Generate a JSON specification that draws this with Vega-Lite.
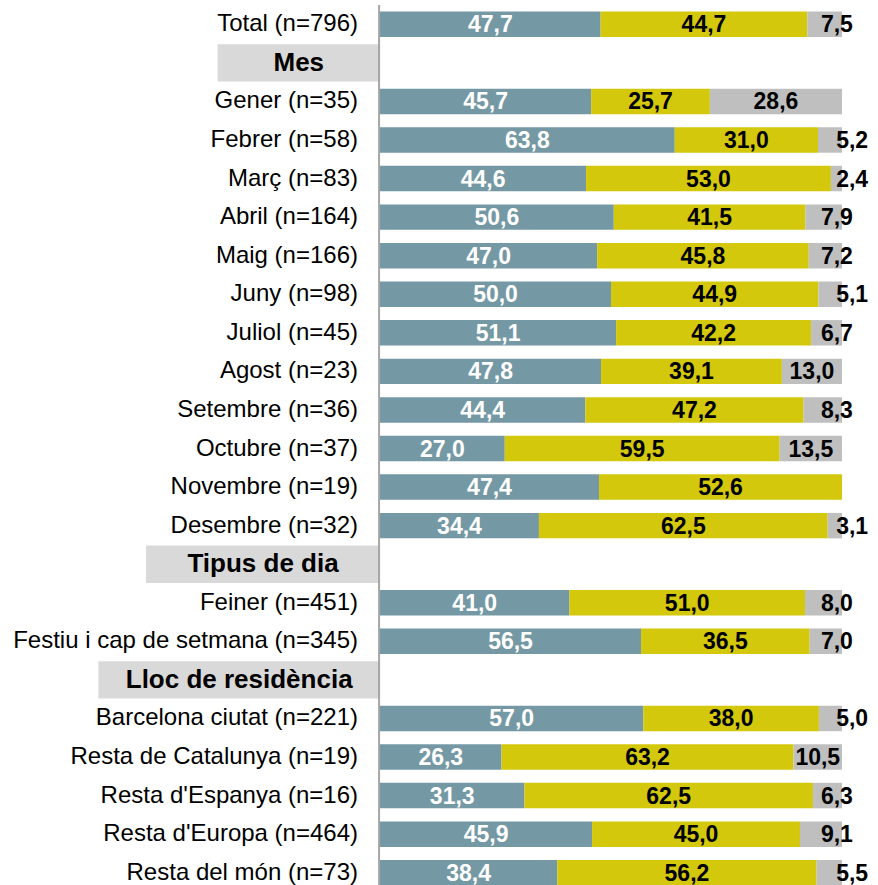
{
  "$schema": "https://vega.github.io/schema/vega-lite/v6.json",
  "width": 878,
  "height": 887,
  "autosize": {"type": "none"},
  "padding": {"left": 0, "right": 0, "top": 5, "bottom": 0},
  "config": {
    "view": {"stroke": null},
    "font": "Liberation Sans",
    "locale": {"number": {"decimal": ",", "thousands": ".", "grouping": [3], "currency": ["", " €"]}}
  },
  "datasets": {
    "rows": [
      {"row": "Total (n=796)", "kind": "cat"},
      {"row": "Mes", "kind": "header"},
      {"row": "Gener (n=35)", "kind": "cat"},
      {"row": "Febrer (n=58)", "kind": "cat"},
      {"row": "Març (n=83)", "kind": "cat"},
      {"row": "Abril (n=164)", "kind": "cat"},
      {"row": "Maig (n=166)", "kind": "cat"},
      {"row": "Juny (n=98)", "kind": "cat"},
      {"row": "Juliol (n=45)", "kind": "cat"},
      {"row": "Agost (n=23)", "kind": "cat"},
      {"row": "Setembre (n=36)", "kind": "cat"},
      {"row": "Octubre (n=37)", "kind": "cat"},
      {"row": "Novembre (n=19)", "kind": "cat"},
      {"row": "Desembre (n=32)", "kind": "cat"},
      {"row": "Tipus de dia", "kind": "header"},
      {"row": "Feiner (n=451)", "kind": "cat"},
      {"row": "Festiu i cap de setmana (n=345)", "kind": "cat"},
      {"row": "Lloc de residència", "kind": "header"},
      {"row": "Barcelona ciutat (n=221)", "kind": "cat"},
      {"row": "Resta de Catalunya (n=19)", "kind": "cat"},
      {"row": "Resta d'Espanya (n=16)", "kind": "cat"},
      {"row": "Resta d'Europa (n=464)", "kind": "cat"},
      {"row": "Resta del món (n=73)", "kind": "cat"}
    ],
    "bars": [
      {"row": "Total (n=796)", "series": "s1", "value": 47.7},
      {"row": "Total (n=796)", "series": "s2", "value": 44.7},
      {"row": "Total (n=796)", "series": "s3", "value": 7.5},
      {"row": "Gener (n=35)", "series": "s1", "value": 45.7},
      {"row": "Gener (n=35)", "series": "s2", "value": 25.7},
      {"row": "Gener (n=35)", "series": "s3", "value": 28.6},
      {"row": "Febrer (n=58)", "series": "s1", "value": 63.8},
      {"row": "Febrer (n=58)", "series": "s2", "value": 31.0},
      {"row": "Febrer (n=58)", "series": "s3", "value": 5.2},
      {"row": "Març (n=83)", "series": "s1", "value": 44.6},
      {"row": "Març (n=83)", "series": "s2", "value": 53.0},
      {"row": "Març (n=83)", "series": "s3", "value": 2.4},
      {"row": "Abril (n=164)", "series": "s1", "value": 50.6},
      {"row": "Abril (n=164)", "series": "s2", "value": 41.5},
      {"row": "Abril (n=164)", "series": "s3", "value": 7.9},
      {"row": "Maig (n=166)", "series": "s1", "value": 47.0},
      {"row": "Maig (n=166)", "series": "s2", "value": 45.8},
      {"row": "Maig (n=166)", "series": "s3", "value": 7.2},
      {"row": "Juny (n=98)", "series": "s1", "value": 50.0},
      {"row": "Juny (n=98)", "series": "s2", "value": 44.9},
      {"row": "Juny (n=98)", "series": "s3", "value": 5.1},
      {"row": "Juliol (n=45)", "series": "s1", "value": 51.1},
      {"row": "Juliol (n=45)", "series": "s2", "value": 42.2},
      {"row": "Juliol (n=45)", "series": "s3", "value": 6.7},
      {"row": "Agost (n=23)", "series": "s1", "value": 47.8},
      {"row": "Agost (n=23)", "series": "s2", "value": 39.1},
      {"row": "Agost (n=23)", "series": "s3", "value": 13.0},
      {"row": "Setembre (n=36)", "series": "s1", "value": 44.4},
      {"row": "Setembre (n=36)", "series": "s2", "value": 47.2},
      {"row": "Setembre (n=36)", "series": "s3", "value": 8.3},
      {"row": "Octubre (n=37)", "series": "s1", "value": 27.0},
      {"row": "Octubre (n=37)", "series": "s2", "value": 59.5},
      {"row": "Octubre (n=37)", "series": "s3", "value": 13.5},
      {"row": "Novembre (n=19)", "series": "s1", "value": 47.4},
      {"row": "Novembre (n=19)", "series": "s2", "value": 52.6},
      {"row": "Desembre (n=32)", "series": "s1", "value": 34.4},
      {"row": "Desembre (n=32)", "series": "s2", "value": 62.5},
      {"row": "Desembre (n=32)", "series": "s3", "value": 3.1},
      {"row": "Feiner (n=451)", "series": "s1", "value": 41.0},
      {"row": "Feiner (n=451)", "series": "s2", "value": 51.0},
      {"row": "Feiner (n=451)", "series": "s3", "value": 8.0},
      {"row": "Festiu i cap de setmana (n=345)", "series": "s1", "value": 56.5},
      {"row": "Festiu i cap de setmana (n=345)", "series": "s2", "value": 36.5},
      {"row": "Festiu i cap de setmana (n=345)", "series": "s3", "value": 7.0},
      {"row": "Barcelona ciutat (n=221)", "series": "s1", "value": 57.0},
      {"row": "Barcelona ciutat (n=221)", "series": "s2", "value": 38.0},
      {"row": "Barcelona ciutat (n=221)", "series": "s3", "value": 5.0},
      {"row": "Resta de Catalunya (n=19)", "series": "s1", "value": 26.3},
      {"row": "Resta de Catalunya (n=19)", "series": "s2", "value": 63.2},
      {"row": "Resta de Catalunya (n=19)", "series": "s3", "value": 10.5},
      {"row": "Resta d'Espanya (n=16)", "series": "s1", "value": 31.3},
      {"row": "Resta d'Espanya (n=16)", "series": "s2", "value": 62.5},
      {"row": "Resta d'Espanya (n=16)", "series": "s3", "value": 6.3},
      {"row": "Resta d'Europa (n=464)", "series": "s1", "value": 45.9},
      {"row": "Resta d'Europa (n=464)", "series": "s2", "value": 45.0},
      {"row": "Resta d'Europa (n=464)", "series": "s3", "value": 9.1},
      {"row": "Resta del món (n=73)", "series": "s1", "value": 38.4},
      {"row": "Resta del món (n=73)", "series": "s2", "value": 56.2},
      {"row": "Resta del món (n=73)", "series": "s3", "value": 5.5}
    ]
  },
  "layer": [
    {
      "data": {"name": "rows"},
      "transform": [
        {"filter": "datum.kind === 'header'"},
        {"calculate": "-(0.30 + 0.0172 * length(datum.row))", "as": "boxLeft"},
        {"calculate": "datum.boxLeft / 2", "as": "boxMid"}
      ],
      "layer": [
        {
          "mark": {"type": "bar", "color": "#D9D9D9", "height": {"band": 0.97}},
          "encoding": {
            "x": {"field": "boxLeft", "type": "quantitative", "scale": {"domain": [-0.8225, 1.0779], "nice": false, "zero": false}, "axis": null},
            "x2": {"datum": 0},
            "y": {"field": "row", "type": "nominal", "scale": {"domain": ["Total (n=796)", "Mes", "Gener (n=35)", "Febrer (n=58)", "Març (n=83)", "Abril (n=164)", "Maig (n=166)", "Juny (n=98)", "Juliol (n=45)", "Agost (n=23)", "Setembre (n=36)", "Octubre (n=37)", "Novembre (n=19)", "Desembre (n=32)", "Tipus de dia", "Feiner (n=451)", "Festiu i cap de setmana (n=345)", "Lloc de residència", "Barcelona ciutat (n=221)", "Resta de Catalunya (n=19)", "Resta d'Espanya (n=16)", "Resta d'Europa (n=464)", "Resta del món (n=73)"], "paddingInner": 0, "paddingOuter": 0}, "axis": null}
          }
        },
        {
          "mark": {"type": "text", "align": "center", "baseline": "middle", "fontSize": 26, "fontWeight": "bold", "color": "#000000"},
          "encoding": {
            "x": {"field": "boxMid", "type": "quantitative"},
            "y": {"field": "row", "type": "nominal"},
            "text": {"field": "row"}
          }
        }
      ]
    },
    {
      "data": {"name": "rows"},
      "transform": [{"filter": "datum.kind === 'cat'"}],
      "mark": {"type": "text", "align": "right", "baseline": "middle", "fontSize": 24, "dx": -22, "color": "#000000"},
      "encoding": {
        "x": {"datum": 0, "type": "quantitative"},
        "y": {"field": "row", "type": "nominal"},
        "text": {"field": "row"}
      }
    },
    {
      "data": {"name": "bars"},
      "transform": [
        {"stack": "value", "groupby": ["row"], "sort": [{"field": "series", "order": "ascending"}], "offset": "normalize", "as": ["x0", "x1"]},
        {"calculate": "(datum.x0 + datum.x1) / 2", "as": "mid"},
        {"calculate": "datum.series === 's3' ? (datum.value < 6 ? datum.x1 + 0.022 : (datum.value < 10 ? datum.x1 - 0.011 : datum.mid)) : datum.mid", "as": "labelX"}
      ],
      "layer": [
        {
          "mark": {"type": "bar", "height": {"band": 0.66}},
          "encoding": {
            "x": {"field": "x0", "type": "quantitative"},
            "x2": {"field": "x1"},
            "y": {"field": "row", "type": "nominal"},
            "color": {"field": "series", "type": "nominal", "scale": {"domain": ["s1", "s2", "s3"], "range": ["#7599A4", "#D3C80B", "#BFBFBF"]}, "legend": null}
          }
        },
        {
          "mark": {"type": "text", "align": "center", "baseline": "middle", "fontSize": 23, "fontWeight": "bold", "dy": 1},
          "encoding": {
            "x": {"field": "labelX", "type": "quantitative"},
            "y": {"field": "row", "type": "nominal"},
            "text": {"field": "value", "type": "quantitative", "format": ".1f"},
            "color": {"condition": {"test": "datum.series === 's1'", "value": "#FFFFFF"}, "value": "#000000"}
          }
        }
      ]
    },
    {
      "data": {"values": [{}]},
      "mark": {"type": "rule", "color": "#A6A6A6", "strokeWidth": 2},
      "encoding": {
        "x": {"datum": -0.002, "type": "quantitative"}
      }
    }
  ]
}
